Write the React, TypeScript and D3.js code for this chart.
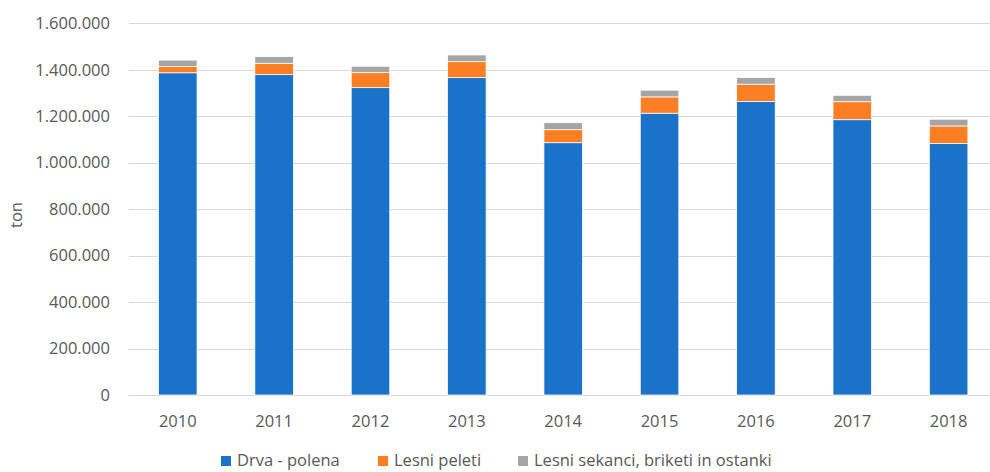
import React from "react";
import * as d3 from "d3";

const years = ["2010", "2011", "2012", "2013", "2014", "2015", "2016", "2017", "2018"];
const drva = [1387000, 1379000, 1323000, 1366000, 1086000, 1213000, 1263000, 1185000, 1082000];
const peleti = [27500, 49000, 64500, 68800, 56000, 70200, 74900, 77500, 76200];
const sekanci = [27000, 28500, 27500, 28800, 30100, 28900, 28400, 27500, 28800];
const yTicks = [0, 200000, 400000, 600000, 800000, 1000000, 1200000, 1400000, 1600000];
const seriesNames = ["Drva - polena", "Lesni peleti", "Lesni sekanci, briketi in ostanki"];
const colors = ["#1a73c8", "#fd7f23", "#a5a5a5"];

const W = 990;
const H = 472;
const FONT = "'Open Sans', 'Liberation Sans', sans-serif";

export default function App() {
  const x = d3.scaleBand<string>().domain(years).range([129.6, 996.8]).paddingInner(0.6).paddingOuter(0.3);
  const y = d3.scaleLinear().domain([0, 1600000]).range([395, 23.3]);
  const rows = years.map((yr, i) => ({ year: yr, a: drva[i], b: peleti[i], c: sekanci[i] }));
  const stack = d3.stack<any>().keys(["a", "b", "c"]);
  const layers = stack(rows);
  const fmt = (v: number) => d3.format(",")(v).replace(/,/g, ".");
  const legendX = [221, 378, 518];

  return (
    <svg width={W} height={H} style={{ position: "absolute", left: 0, top: 0, background: "#fff" }} fontFamily={FONT}>
      {yTicks.map((t) => (
        <g key={t}>
          <line x1={129} x2={W} y1={Math.round(y(t)) + 0.5} y2={Math.round(y(t)) + 0.5} stroke="#d9d9d9" strokeWidth={1} />
          <text x={110} y={y(t)} dy="0.35em" textAnchor="end" fontSize={16.5} fill="#595959">
            {fmt(t)}
          </text>
        </g>
      ))}
      {layers.map((layer, li) => (
        <g key={li}>
          {layer.map((d: any, i: number) => (
            <rect
              key={i}
              x={x(years[i])}
              width={x.bandwidth()}
              y={y(d[1])}
              height={y(d[0]) - y(d[1])}
              fill={colors[li]}
              stroke="#fff"
              strokeWidth={0.75}
            />
          ))}
        </g>
      ))}
      {years.map((yr) => (
        <text key={yr} x={(x(yr) as number) + x.bandwidth() / 2} y={421} dy="0.35em" textAnchor="middle" fontSize={16.5} fill="#595959">
          {yr}
        </text>
      ))}
      <text transform="translate(16,215) rotate(-90)" textAnchor="middle" dy="0.35em" fontSize={16.5} fill="#595959">
        ton
      </text>
      {seriesNames.map((n, i) => (
        <g key={n}>
          <rect x={legendX[i]} y={456} width={10} height={10} fill={colors[i]} />
          <text x={legendX[i] + 16} y={460} dy="0.35em" fontSize={16.5} fill="#595959">
            {n}
          </text>
        </g>
      ))}
    </svg>
  );
}
